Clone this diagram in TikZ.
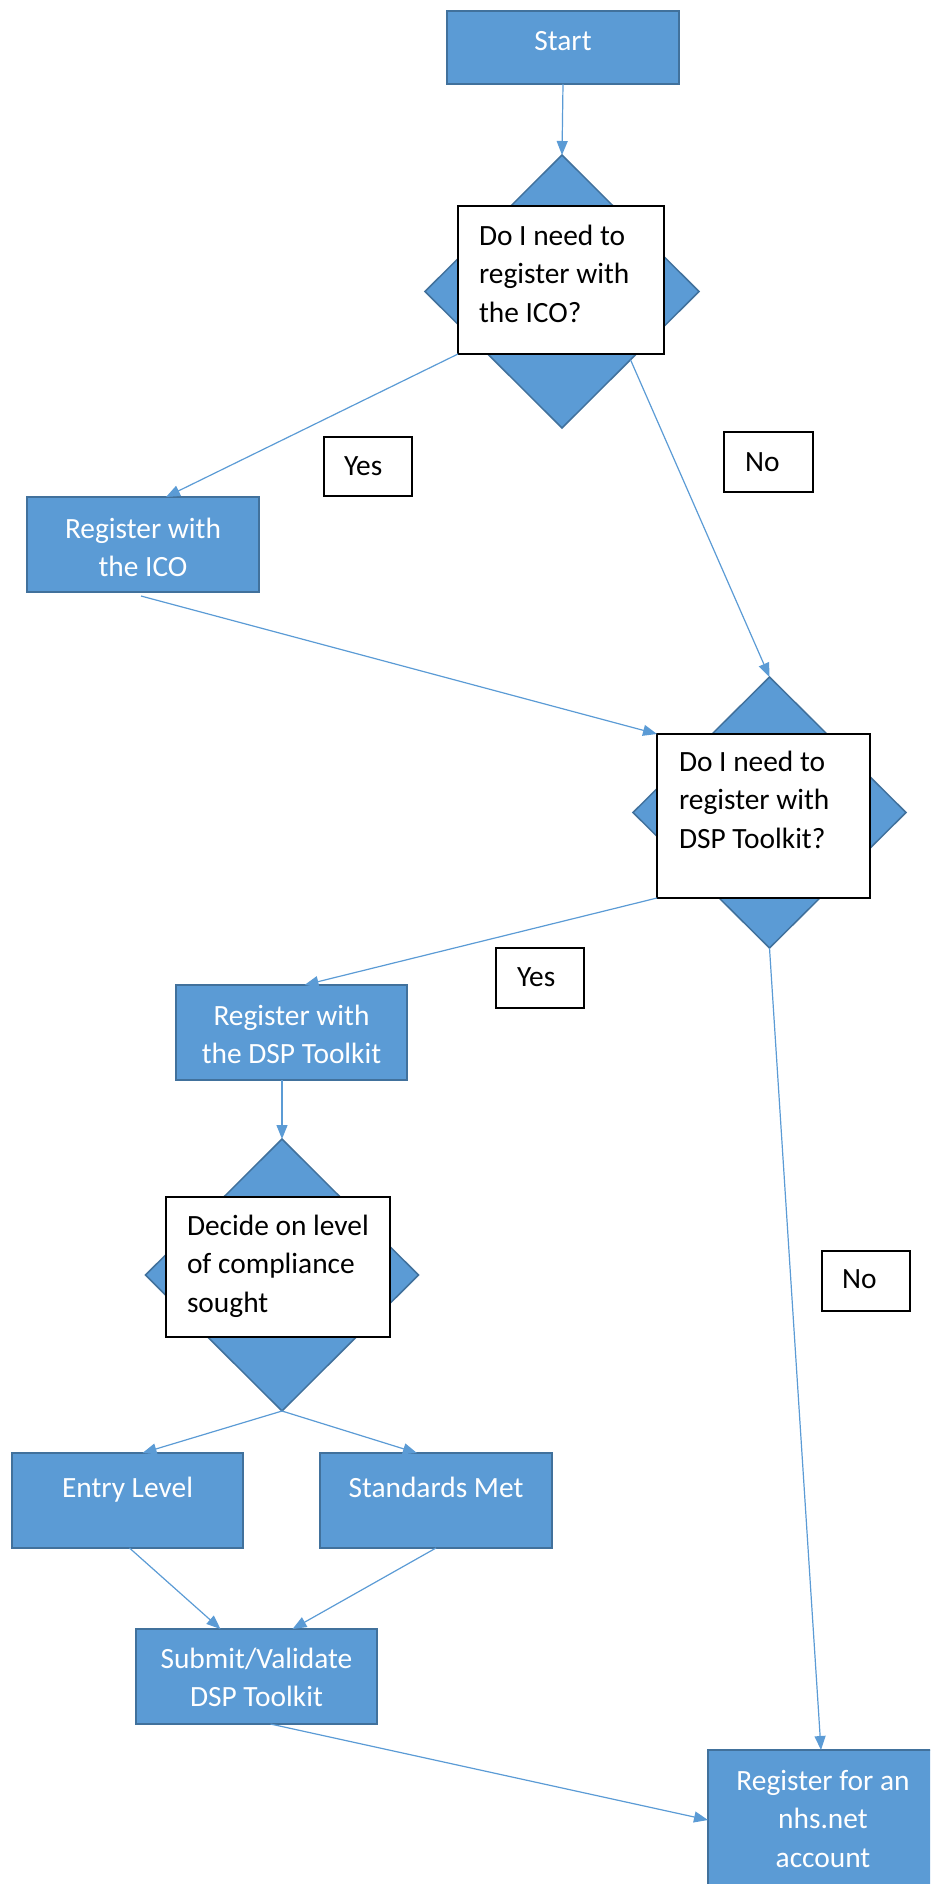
\documentclass[tikz,border=0pt]{standalone}
\usepackage{fontspec}
\setmainfont{Carlito}
\usetikzlibrary{shapes.geometric,arrows.meta,calc}
\definecolor{ofill}{HTML}{5B9BD5}
\definecolor{oline}{HTML}{41719C}
\newcommand\myfs{\fontsize{29.4pt}{38.5pt}\selectfont}
\begin{document}
\begin{tikzpicture}[x=1pt,y=-1pt,
  bbox/.style={rectangle,draw=oline,line width=2pt,fill=ofill,inner sep=0pt,outer sep=0pt,anchor=north west},
  wbox/.style={rectangle,draw=black,line width=1.8pt,fill=white,inner sep=0pt,outer sep=0pt,anchor=north west},
  dia/.style={diamond,draw=oline,line width=1.5pt,fill=ofill,inner sep=0pt,outer sep=0pt},
  ctext/.style={anchor=base,inner sep=0pt,outer sep=0pt,text=white,font=\myfs},
  ltext/.style={anchor=base west,inner sep=0pt,outer sep=0pt,text=black,font=\myfs},
  conn/.style={draw=ofill,line width=1.2pt,-{Triangle[length=14pt,width=11pt]}}]
\useasboundingbox (0,0) rectangle (930,1884);
\clip (0,0) rectangle (930,1884);

% Start
\node[bbox,minimum width=232pt,minimum height=73pt] (start) at (447,11) {};
\node[ctext] (tstart) at (563,51) {Start};

% Decision 1
\node[dia,minimum width=274pt,minimum height=273pt] (d1) at (562,291.5) {};
\node[wbox,minimum width=206pt,minimum height=148pt] (w1) at (458,206) {};
\node[ltext] (tw1) at (479,245) {\parbox[t]{220pt}{\raggedright Do I need to\\register with\\the ICO?}};

% Register ICO
\node[bbox,minimum width=232pt,minimum height=95pt] (ico) at (27,497) {};
\node[ctext] (tico) at (143,538) {\parbox[t]{230pt}{\centering Register with\\the ICO}};

% labels
\node[wbox,minimum width=88pt,minimum height=59pt] (yes1) at (324,437) {};
\node[ltext] (tyes1) at (344,475) {Yes};
\node[wbox,minimum width=89pt,minimum height=60pt] (no1) at (724,432) {};
\node[ltext] (tno1) at (745,471) {No};

% Decision 2
\node[dia,minimum width=273pt,minimum height=271pt] (d2) at (769.5,812.5) {};
\node[wbox,minimum width=213pt,minimum height=164pt] (w2) at (657,734) {};
\node[ltext] (tw2) at (679,771) {\parbox[t]{220pt}{\raggedright Do I need to\\register with\\DSP Toolkit?}};

\node[wbox,minimum width=88pt,minimum height=60pt] (yes2) at (496,948) {};
\node[ltext] (tyes2) at (517,986) {Yes};

% Register DSP
\node[bbox,minimum width=231pt,minimum height=95pt] (dsp) at (176,985) {};
\node[ctext] (tdsp) at (291.5,1025) {\parbox[t]{230pt}{\centering Register with\\the DSP Toolkit}};

% Decision 3
\node[dia,minimum width=273pt,minimum height=272pt] (d3) at (282,1275) {};
\node[wbox,minimum width=224pt,minimum height=140pt] (w3) at (166,1197) {};
\node[ltext] (tw3) at (187,1235) {\parbox[t]{220pt}{\raggedright Decide on level\\of compliance\\sought}};

\node[wbox,minimum width=88pt,minimum height=60pt] (no2) at (822,1251) {};
\node[ltext] (tno2) at (842,1288) {No};

% Levels
\node[bbox,minimum width=231pt,minimum height=95pt] (entry) at (12,1453) {};
\node[ctext] (tentry) at (127.5,1497) {Entry Level};
\node[bbox,minimum width=232pt,minimum height=95pt] (std) at (320,1453) {};
\node[ctext] (tstd) at (436,1497) {Standards Met};

% Submit
\node[bbox,minimum width=241pt,minimum height=95pt] (submit) at (136,1629) {};
\node[ctext] (tsubmit) at (256.5,1668) {\parbox[t]{240pt}{\centering Submit/Validate\\DSP Toolkit}};

% nhs
\node[bbox,minimum width=230pt,minimum height=150pt] (nhs) at (708,1750) {};
\node[ctext] (tnhs) at (823,1790) {\parbox[t]{230pt}{\centering Register for an\\nhs.net\\account}};

% connectors
\draw[conn] (start.south) -- (d1.north);
\draw[conn] (w1.south west) -- ([xshift=23pt]ico.north);
\draw[conn] (d1.south east) -- (d2.north);
\draw[conn] ([xshift=-2pt,yshift=-4pt]ico.south) -- (w2.north west);
\draw[conn] (w2.south west) -- ([xshift=13pt]dsp.north);
\draw[conn] (d2.south) -- ([xshift=-2pt]nhs.north);
\draw[conn] (dsp.south -| d3.north) -- (d3.north);
\draw[conn] (d3.south) -- ([xshift=15pt]entry.north);
\draw[conn] (d3.south) -- ([xshift=-19pt]std.north);
\draw[conn] ([xshift=2pt]entry.south) -- ([xshift=-36pt]submit.north);
\draw[conn] (std.south) -- ([xshift=36pt]submit.north);
\draw[conn] ([xshift=14pt]submit.south) -- ([yshift=-70pt]nhs.north west);
\end{tikzpicture}
\end{document}
